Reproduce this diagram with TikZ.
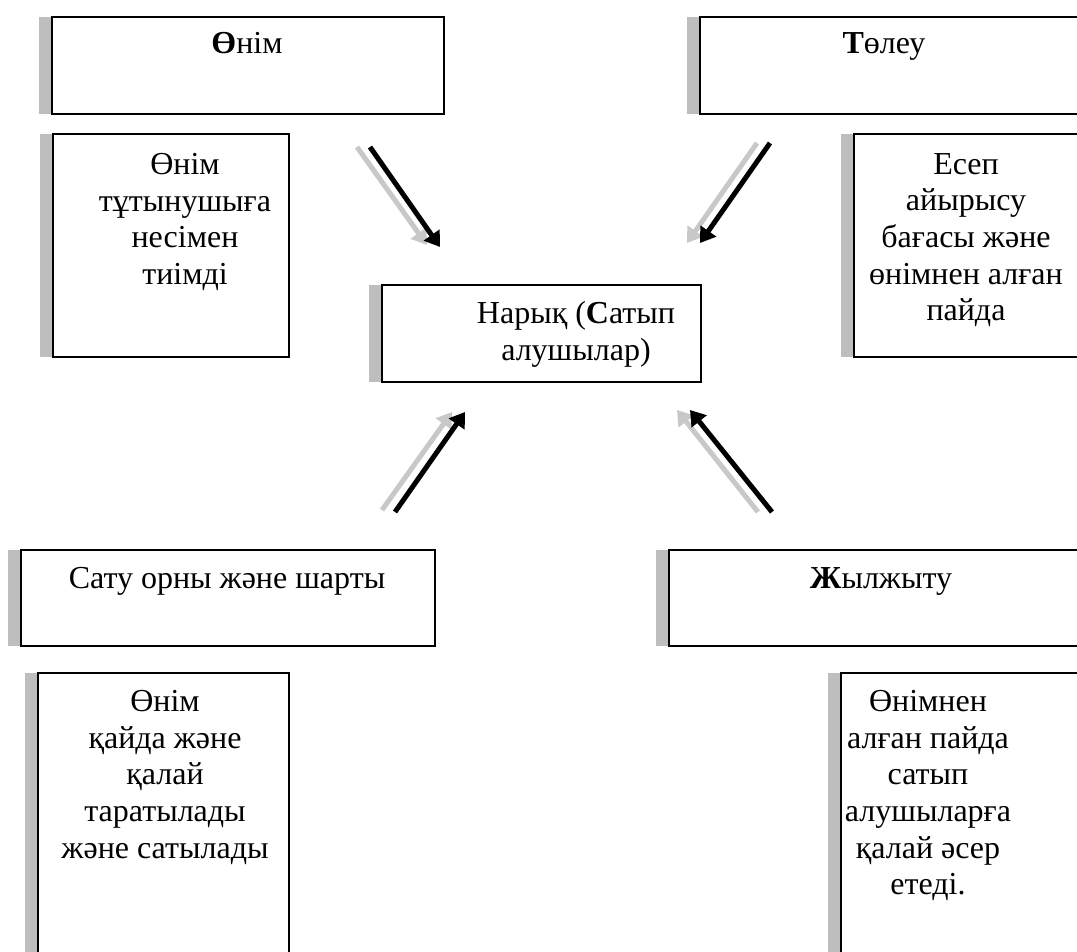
\documentclass[tikz,border=0pt]{standalone}
\usepackage{fontspec}
\setmainfont{Liberation Serif}
\usetikzlibrary{arrows.meta}

\definecolor{shadowgrey}{RGB}{190,190,190}
\definecolor{arrowgrey}{RGB}{200,200,200}

\tikzset{
	panel/.style={draw, line width=1.5pt, fill=white, anchor=north west, inner sep=0pt,
		preaction={fill=shadowgrey, transform canvas={xshift=-9.75pt}}},
	txt/.style={anchor=north, align=center, inner sep=0pt,
		font=\fontsize{24}{27.5}\selectfont},
	flow/.style={line width=3.75pt, -{Triangle[length=11pt,width=14pt]}},
	flowshade/.style={flow, draw=arrowgrey},
}

\begin{document}
\begin{tikzpicture}[x=0.75pt, y=-0.75pt]

		\useasboundingbox (0,0) rectangle (1077,951);

		% boxes
		\node[panel, minimum width=294pt, minimum height=72.75pt] (product) at (51,16) {};
		\node[panel, minimum width=300pt, minimum height=72.75pt] (payment) at (699,16) {};
		\node[panel, minimum width=177pt, minimum height=167.25pt] (productnote) at (52,133) {};
		\node[panel, minimum width=180pt, minimum height=167.25pt] (paymentnote) at (853,133) {};
		\node[panel, minimum width=239.25pt, minimum height=72.75pt] (market) at (381,284) {};
		\node[panel, minimum width=310.5pt, minimum height=72pt] (place) at (20,549) {};
		\node[panel, minimum width=322.5pt, minimum height=72pt] (promo) at (668,549) {};
		\node[panel, minimum width=188.25pt, minimum height=225pt] (placenote) at (37,672) {};
		\node[panel, minimum width=195pt, minimum height=225pt] (promonote) at (840,672) {};

		% texts
		\node[txt] (producttxt) at (247,32) {\textbf{Ө}нім};
		\node[txt] (paymenttxt) at (884,32) {\textbf{Т}өлеу};
		\node[txt] (productnotetxt) at (185,153) {Өнім\\тұтынушыға\\несімен\\тиімді};
		\node[txt] (paymentnotetxt) at (966,153) {Есеп\\айырысу\\бағасы және\\өнімнен алған\\пайда};
		\node[txt] (markettxt) at (576,301) {Нарық (\textbf{С}атып\\алушылар)};
		\node[txt] (placetxt) at (227,567) {Сату орны және шарты};
		\node[txt] (promotxt) at (881,567) {\textbf{Ж}ылжыту};
		\node[txt] (placenotetxt) at (165,690) {Өнім\\қайда және\\қалай\\таратылады\\және сатылады};
		\node[txt] (promonotetxt) at (928,690) {Өнімнен\\алған пайда\\сатып\\алушыларға\\қалай әсер\\етеді.};

		% arrows
		\coordinate (a1s) at (370,147);
		\coordinate (a1e) at (440,247);
		\coordinate (a2s) at (770,143);
		\coordinate (a2e) at (700,243);
		\coordinate (a3s) at (395,512);
		\coordinate (a3e) at (465,412);
		\coordinate (a4s) at (772,512);
		\coordinate (a4e) at (690,410);

		\draw[flowshade] ([xshift=-9.75pt]a1s) -- ([xshift=-9.75pt,yshift=1.5pt]a1e);
		\draw[flowshade] ([xshift=-9.75pt]a2s) -- ([xshift=-9.75pt]a2e);
		\draw[flowshade] ([xshift=-9.75pt,yshift=1.5pt]a3s) -- ([xshift=-9.75pt]a3e);
		\draw[flowshade] ([xshift=-10.5pt]a4s) -- ([xshift=-9.75pt]a4e);

		\draw[flow] (a1s) -- (a1e);
		\draw[flow] (a2s) -- (a2e);
		\draw[flow] (a3s) -- (a3e);
		\draw[flow] (a4s) -- (a4e);

	\end{tikzpicture}
\end{document}
